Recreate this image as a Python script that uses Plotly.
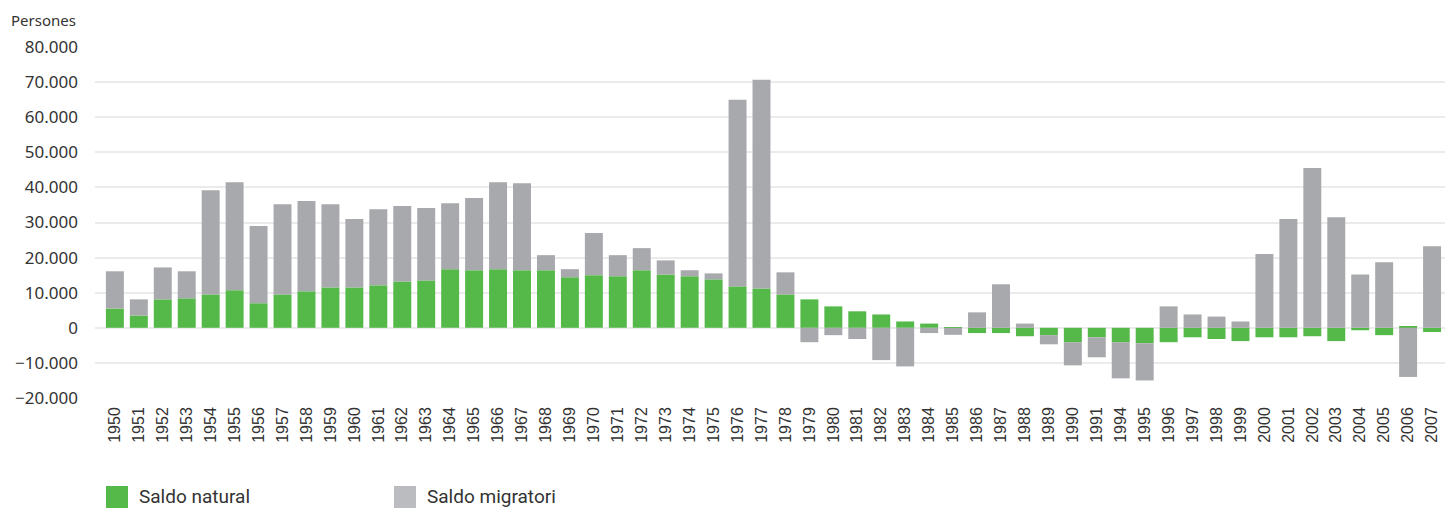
import plotly.graph_objects as go

years = ['1950', '1951', '1952', '1953', '1954', '1955', '1956', '1957', '1958', '1959',
         '1960', '1961', '1962', '1963', '1964', '1965', '1966', '1967', '1968', '1969',
         '1970', '1971', '1972', '1973', '1974', '1975', '1976', '1977', '1978', '1979',
         '1980', '1981', '1982', '1983', '1984', '1985', '1986', '1987', '1988', '1989',
         '1990', '1991', '1994', '1995', '1996', '1997', '1998', '1999', '2000', '2001',
         '2002', '2003', '2004', '2005', '2006', '2007']

saldo_natural = [5500, 3500, 8100, 8400, 9500, 10700, 7000, 9500, 10400, 11500,
                 11500, 12100, 13200, 13500, 16700, 16400, 16700, 16400, 16400, 14400,
                 15000, 14700, 16400, 15200, 14700, 13800, 11800, 11200, 9500, 8100,
                 6100, 4700, 3800, 1800, 1200, 200, -1500, -1500, -2400, -2100,
                 -4100, -2700, -4100, -4400, -4100, -2700, -3200, -3800, -2700, -2700,
                 -2400, -3800, -700, -2100, 300, -1200]

saldo_migratori = [10600, 4600, 9100, 7700, 29700, 30800, 22000, 25700, 25700, 23700,
                   19500, 21700, 21500, 20600, 18800, 20600, 24800, 24800, 4300, 2300,
                   12000, 6000, 6300, 4000, 1700, 1700, 53200, 59500, 6300, -4100,
                   -2100, -3200, -9200, -11000, -1500, -2000, 4400, 12400, 1200, -2600,
                   -6600, -5700, -10300, -10600, 6100, 3800, 3200, 1800, 21000, 31000,
                   45500, 31500, 15200, 18700, -14000, 23200]

GREEN = '#54b948'
GREY = '#a8a9ad'
W, H = 1445, 508
M_L, M_R, M_T, M_B = 95, 0, 47, 110

fig = go.Figure()
fig.add_trace(go.Bar(x=years, y=saldo_natural, name='Saldo natural',
                     marker=dict(color=GREEN, line=dict(width=0)), showlegend=False))
fig.add_trace(go.Bar(x=years, y=saldo_migratori, name='Saldo migratori',
                     marker=dict(color=GREY, line=dict(width=0)), showlegend=False))

fig.update_layout(
    width=W, height=H,
    margin=dict(l=M_L, r=M_R, t=M_T, b=M_B),
    barmode='relative',
    bargap=0.25,
    separators=',.',
    plot_bgcolor='white',
    paper_bgcolor='white',
    font=dict(family='Noto Sans, Open Sans, sans-serif', color='#333333'),
)
fig.update_yaxes(
    range=[-20000, 80000], dtick=10000, tickformat=',d',
    showgrid=True, gridcolor='#ebebeb', gridwidth=1.5,
    zeroline=True, zerolinecolor='#ebebeb', zerolinewidth=1.5,
    tickfont=dict(size=17, color='#333333'), ticks='', ticklabelstandoff=16,
)
# a little empty room left of the first bar, as in the original
fig.update_xaxes(
    type='category', range=[-0.83, len(years) - 0.46], tickangle=-90,
    showgrid=False, showline=False, ticks='', ticklabelstandoff=5,
    tickfont=dict(size=16, color='#333333', family='Liberation Sans, Arial, sans-serif'),
)

plot_w = W - M_L - M_R
plot_h = H - M_T - M_B

def px_x(px):
    return (px - M_L) / plot_w

def px_y(py):
    return (H - M_B - py) / plot_h

# axis unit label
fig.add_annotation(text='Persones', xref='paper', yref='paper',
                   x=px_x(9), y=px_y(20), xanchor='left', yanchor='middle',
                   showarrow=False, font=dict(size=15, color='#333333'))

# legend drawn as squares + labels
legend_items = [('Saldo natural', GREEN, 106), ('Saldo migratori', '#bbbcbf', 394)]
for label, color, x0 in legend_items:
    fig.add_shape(type='rect', xref='paper', yref='paper',
                  x0=px_x(x0), x1=px_x(x0 + 22), y0=px_y(486), y1=px_y(508),
                  fillcolor=color, line=dict(width=0))
    fig.add_annotation(text=label, xref='paper', yref='paper',
                       x=px_x(x0 + 31), y=px_y(497), xanchor='left', yanchor='middle',
                       showarrow=False,
                       font=dict(size=19, color='#333333',
                                 family='Liberation Sans Narrow, Roboto, sans-serif'))

fig.write_html('out.html', config={'displayModeBar': False},
               post_script="document.body.style.margin='0';document.body.style.overflow='hidden';")
